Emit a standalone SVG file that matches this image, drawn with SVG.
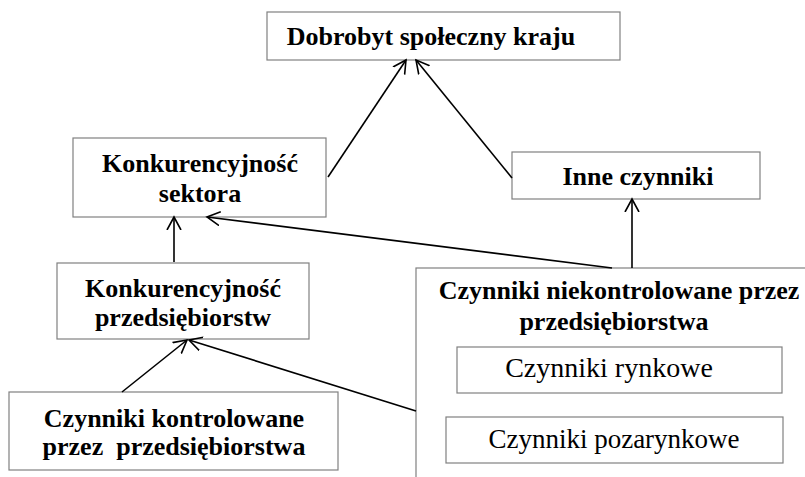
<svg xmlns="http://www.w3.org/2000/svg" width="805" height="477" viewBox="0 0 805 477">
<style>
.box{fill:#fff;stroke:#808080;stroke-width:1.2}
.b{font-family:"Liberation Serif","Times New Roman",serif;font-weight:bold;font-size:26px;fill:#000;text-anchor:middle}
.r{font-family:"Liberation Serif","Times New Roman",serif;font-size:27px;fill:#000;text-anchor:middle}
.c{stroke:#000;stroke-width:1.6;fill:none;marker-end:url(#ah)}
</style>
<defs>
<marker id="ah" markerUnits="userSpaceOnUse" markerWidth="16" markerHeight="16" refX="13" refY="7" orient="auto" viewBox="0 0 16 14">
<path d="M0,0 L13,7 L0,14" fill="none" stroke="#000" stroke-width="1.6"/>
</marker>
</defs>
<rect width="805" height="477" fill="#fff"/>
<g id="n-niekontrolowane">
<rect class="box" x="416" y="268" width="400" height="220"/>
<text class="b" x="619" y="299">Czynniki niekontrolowane przez</text>
<text class="b" x="614" y="330">przedsiębiorstwa</text>
</g>
<g id="n-rynkowe">
<rect class="box" x="457" y="347" width="325" height="46"/>
<text class="r" x="609" y="377" style="font-size:28px">Czynniki rynkowe</text>
</g>
<g id="n-pozarynkowe">
<rect class="box" x="446" y="417" width="337" height="46"/>
<text class="r" x="614" y="448">Czynniki pozarynkowe</text>
</g>
<g id="n-dobrobyt">
<rect class="box" x="267" y="12" width="353" height="48"/>
<text class="b" x="431" y="45">Dobrobyt społeczny kraju</text>
</g>
<g id="n-sektora">
<rect class="box" x="73" y="138" width="253" height="79"/>
<text class="b" x="200" y="172">Konkurencyjność</text>
<text class="b" x="200" y="202">sektora</text>
</g>
<g id="n-inne">
<rect class="box" x="512" y="152" width="248" height="47"/>
<text class="b" x="638" y="185">Inne czynniki</text>
</g>
<g id="n-przedsiebiorstw">
<rect class="box" x="57" y="263" width="252" height="76"/>
<text class="b" x="183" y="297">Konkurencyjność</text>
<text class="b" x="183" y="326">przedsiębiorstw</text>
</g>
<g id="n-kontrolowane">
<rect class="box" x="9" y="392" width="329" height="78"/>
<text class="b" x="174" y="427">Czynniki kontrolowane</text>
<text class="b" x="174" y="455" xml:space="preserve">przez  przedsiębiorstwa</text>
</g>
<g id="connectors">
<line class="c" x1="328" y1="177" x2="406" y2="60"/>
<line class="c" x1="512" y1="178" x2="416" y2="60"/>
<line class="c" x1="174" y1="262" x2="174" y2="217"/>
<line class="c" x1="612" y1="268" x2="207" y2="217"/>
<line class="c" x1="632" y1="268" x2="632" y2="199"/>
<line class="c" x1="122" y1="392" x2="187" y2="340"/>
<line class="c" x1="416" y1="411" x2="189" y2="340"/>
</g>
</svg>
